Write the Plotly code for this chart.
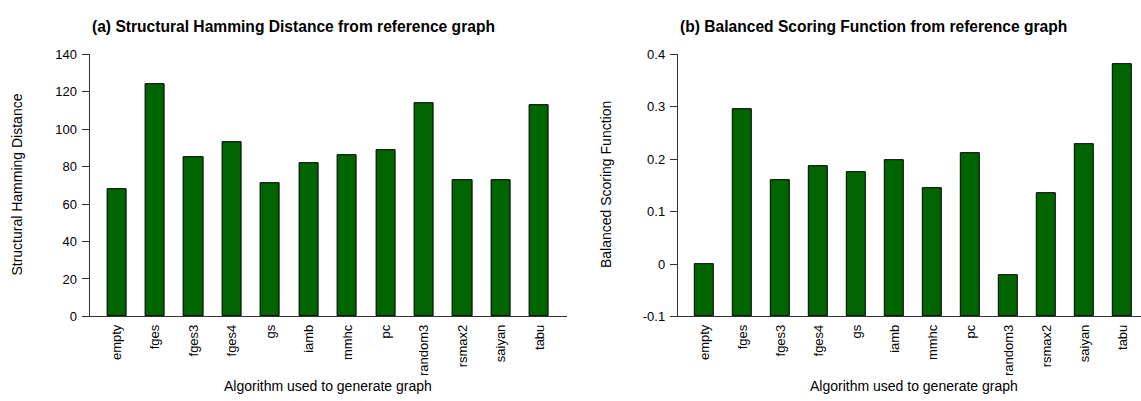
import plotly.graph_objects as go

# Algorithms compared against the reference graph
algorithms = ["empty", "fges", "fges3", "fges4", "gs", "iamb", "mmhc", "pc",
              "random3", "rsmax2", "saiyan", "tabu"]

# Structural Hamming Distance per algorithm
shd_values = [68, 124, 85, 93, 71, 82, 86, 89, 114, 73, 73, 113]

# Balanced Scoring Function per algorithm
bsf_values = [0.0, 0.295, 0.160, 0.186, 0.176, 0.198, 0.144, 0.212,
              -0.022, 0.136, 0.228, 0.380]

shd_ticks = [0, 20, 40, 60, 80, 100, 120, 140]
shd_ticktext = ["0", "20", "40", "60", "80", "100", "120", "140"]
bsf_ticks = [-0.1, 0.0, 0.1, 0.2, 0.3, 0.4]
bsf_ticktext = ["-0.1", "0", "0.1", "0.2", "0.3", "0.4"]

# BSF bars rise from the bottom of the axis range
BSF_FLOOR = -0.1

W, H = 1141, 401
FONT = "Liberation Sans, Arial, sans-serif"
BAR_COLOR = "#006400"
AXIS_COLOR = "#333333"


def px_x(p):
    return p / W


def px_y(p):
    return 1 - p / H


fig = go.Figure()

fig.add_trace(go.Bar(x=algorithms, y=shd_values, width=0.5,
                     marker=dict(color=BAR_COLOR, line=dict(color="black", width=1)),
                     xaxis="x", yaxis="y", showlegend=False, hoverinfo="x+y"))
fig.add_trace(go.Bar(x=algorithms, y=[v - BSF_FLOOR for v in bsf_values],
                     base=BSF_FLOOR, width=0.5,
                     customdata=bsf_values, hovertemplate="%{x}: %{customdata}<extra></extra>",
                     marker=dict(color=BAR_COLOR, line=dict(color="black", width=1)),
                     xaxis="x2", yaxis="y2", showlegend=False))

common_x = dict(type="category", showline=True, linecolor=AXIS_COLOR, linewidth=1,
                ticks="", showgrid=False, zeroline=False, tickangle=-90,
                tickfont=dict(family=FONT, size=13, color="black"),
                ticklabelstandoff=2, fixedrange=True)
common_y = dict(showline=True, linecolor=AXIS_COLOR, linewidth=1, ticks="outside",
                ticklen=7, tickcolor=AXIS_COLOR, tickwidth=1, showgrid=False,
                zeroline=False, tickfont=dict(family=FONT, size=13, color="black"),
                ticklabelstandoff=2, fixedrange=True)

left_l, left_r = 89.6, 566.6
right_l = 677.8
y_top, y_bot = 49.0, 321.5

fig.update_layout(
    width=W, height=H,
    margin=dict(l=0, r=0, t=0, b=0),
    paper_bgcolor="white", plot_bgcolor="white",
    bargap=0,
    xaxis=dict(common_x, domain=[px_x(left_l), px_x(left_r)], range=[-0.71, 11.71],
               anchor="y"),
    yaxis=dict(common_y, domain=[px_y(y_bot), px_y(y_top)], range=[0, 140],
               tickvals=shd_ticks, ticktext=shd_ticktext, anchor="x"),
    xaxis2=dict(common_x, domain=[px_x(right_l), 1.0],
                range=[-0.71, -0.71 + (W - right_l) / 38.0], anchor="y2"),
    yaxis2=dict(common_y, domain=[px_y(y_bot), px_y(y_top)], range=[-0.1, 0.4],
                tickvals=bsf_ticks, ticktext=bsf_ticktext, anchor="x2"),
)

annotations = [
    dict(text="<b>(a) Structural Hamming Distance from reference graph</b>",
         x=px_x(left_l), y=px_y(20.5), xanchor="left", yanchor="middle", size=15.6),
    dict(text="<b>(b) Balanced Scoring Function from reference graph</b>",
         x=px_x(right_l), y=px_y(20.5), xanchor="left", yanchor="middle", size=15.6),
    dict(text="Algorithm used to generate graph",
         x=px_x((left_l + left_r) / 2), y=px_y(393.5), xanchor="center",
         yanchor="middle", size=14),
    dict(text="Algorithm used to generate graph",
         x=px_x(913.8), y=px_y(393.5), xanchor="center", yanchor="middle", size=14),
    dict(text="Structural Hamming Distance", x=px_x(17.5), y=px_y(185),
         xanchor="center", yanchor="middle", size=14, textangle=-90),
    dict(text="Balanced Scoring Function", x=px_x(606), y=px_y(185),
         xanchor="center", yanchor="middle", size=14, textangle=-90),
]

for a in annotations:
    size = a.pop("size")
    fig.add_annotation(xref="paper", yref="paper", showarrow=False,
                       font=dict(family=FONT, size=size, color="black"), **a)

fig.write_html("out.html")
